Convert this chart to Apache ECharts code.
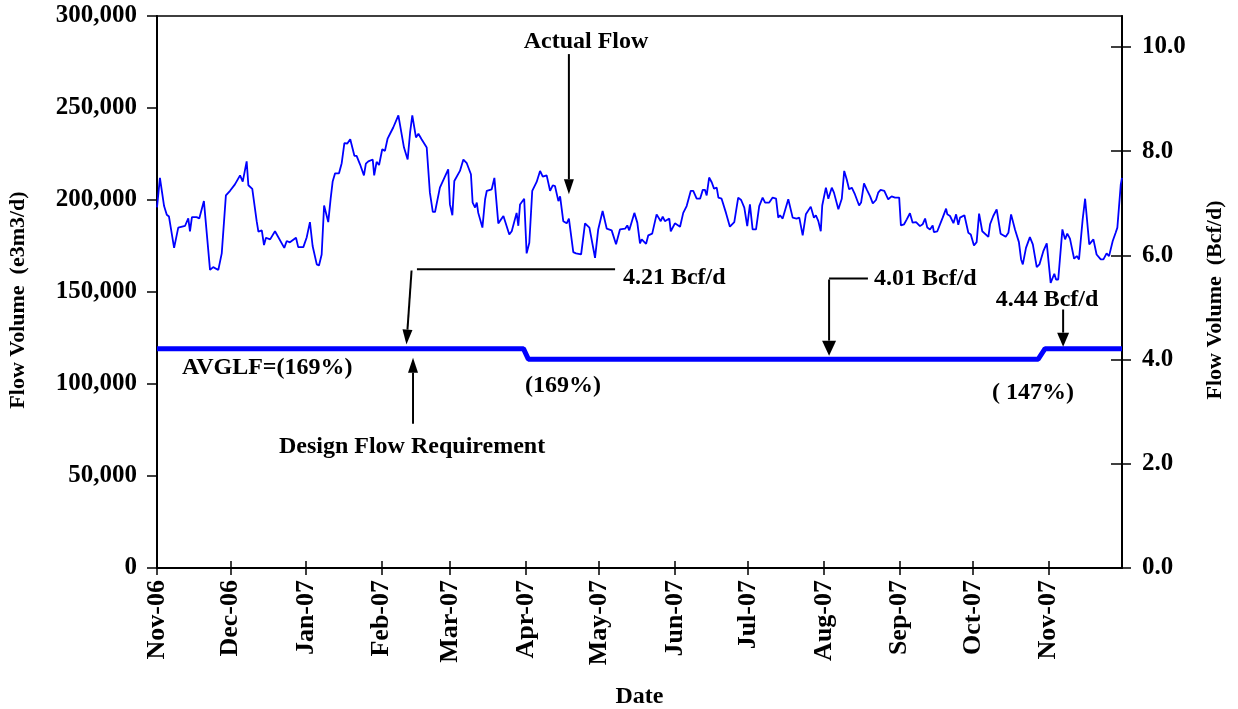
<!DOCTYPE html>
<html>
<head>
<meta charset="utf-8">
<script src="https://cdn.jsdelivr.net/npm/echarts@6/dist/echarts.min.js"></script>
<style>
html, body { margin: 0; padding: 0; background: #fff; }
#chart { width: 1238px; height: 709px; }
</style>
</head>
<body>
<div id="chart"></div>
<script>
// x values are days counted from 1 Nov 2006
const flowDays = [
  0, 1.2, 2.9, 4.0, 4.9, 7.0, 8.7, 11.5, 12.8, 13.5, 14.3, 16.2, 17.3, 19.2, 21.7, 23.0, 25.1, 26.5, 28.2, 29.9,
  31.9, 34.0, 35.1, 36.7, 37.4, 39.0, 40.8, 41.5, 42.9, 43.8, 44.6, 46.3, 48.3, 52.1, 53.1, 54.4, 56.9, 57.8, 59.9, 61.3,
  62.6, 63.7, 65.4, 66.3, 67.4, 68.4, 70.1, 71.1, 71.9, 72.9, 74.5, 75.6, 76.7, 77.9, 79.1, 80.8, 81.7, 83.1, 84.7, 85.5,
  86.5, 88.3, 88.9, 89.9, 90.9, 92.2, 93.3, 94.4, 95.4, 96.7, 98.8, 101.1, 102.6, 103.6, 104.5, 106.0, 107.0, 108.3, 110.4, 111.7,
  112.9, 113.8, 115.8, 119.2, 119.9, 120.9, 121.7, 124.0, 125.4, 126.8, 128.5, 129.2, 130.2, 130.9, 131.5, 133.2, 134.3, 135.0, 137.0, 138.1,
  139.7, 141.8, 144.2, 145.2, 147.2, 147.9, 148.6, 150.3, 151.3, 152.4, 153.6, 155.4, 156.8, 157.9, 159.5, 160.9, 162.0, 162.9, 164.3, 165.0,
  166.3, 167.7, 168.6, 170.4, 171.5, 173.6, 175.2, 177.0, 179.3, 180.6, 182.4, 184.1, 186.1, 187.9, 189.5, 191.6, 192.5, 193.3, 195.4, 196.6,
  197.7, 198.4, 200.2, 201.1, 202.7, 204.5, 205.2, 206.2, 207.0, 207.9, 209.7, 210.3, 211.1, 212.0, 214.1, 215.4, 216.8, 218.5, 219.5, 220.9,
  222.3, 223.4, 224.3, 225.0, 226.0, 227.1, 228.0, 229.1, 229.8, 231.1, 232.9, 234.5, 236.3, 237.9, 239.1, 240.4, 241.6, 242.7, 243.8, 245.2,
  246.5, 247.9, 248.9, 250.6, 252.0, 253.4, 254.3, 255.0, 256.1, 258.4, 260.2, 261.8, 262.9, 264.3, 265.6, 267.6, 268.4, 268.9, 269.7, 270.7,
  271.7, 272.3, 273.8, 274.8, 276.2, 277.1, 278.9, 280.3, 281.3, 282.3, 283.3, 284.4, 285.7, 286.4, 287.4, 288.2, 289.4, 290.5, 291.9, 293.0,
  294.3, 295.2, 296.2, 297.7, 299.3, 300.7, 302.1, 303.8, 304.5, 305.8, 306.9, 308.2, 309.3, 310.7, 312.3, 313.4, 314.4, 315.3, 316.4, 317.5,
  318.0, 319.4, 321.6, 323.0, 323.5, 324.6, 326.0, 327.1, 328.0, 328.7, 330.5, 332.1, 333.1, 334.4, 335.5, 336.5, 337.8, 340.3, 341.0, 342.3,
  343.7, 345.3, 347.4, 348.5, 349.6, 350.3, 351.2, 352.8, 353.7, 354.4, 355.7, 357.3, 358.5, 360.1, 361.2, 362.8, 364.2, 365.8, 367.3, 368.0,
  368.9, 370.6, 371.7, 372.6, 373.7, 375.4, 376.5, 377.4, 378.9, 379.9, 380.6, 381.6, 383.3, 384.6, 386.3, 387.4, 388.7, 389.7, 390.5, 391.2,
  392.4, 393.1, 394.5, 395.0
];
const flowValues = [
  196000, 212000, 196700, 192000, 191000, 174000, 185000, 186000, 190000, 183000, 190700, 190700, 190000, 199400, 162000, 163500, 162000, 171000, 202500, 205000,
  208500, 213400, 210000, 221000, 208000, 206000, 188500, 182800, 183500, 175500, 179500, 178600, 183000, 174000, 177700, 177000, 179500, 174400, 174400, 179800,
  188000, 175000, 165000, 164400, 170400, 197000, 188000, 201000, 210000, 214500, 214500, 220000, 230900, 230700, 233000, 224000, 224000, 219400, 213400, 219800,
  221000, 222000, 213400, 220700, 219000, 227600, 226700, 233400, 236000, 239400, 246000, 228500, 222000, 236700, 246000, 234000, 236000, 233000, 228500, 204000,
  193500, 193500, 206700, 216700, 197600, 191700, 210300, 215800, 222000, 220000, 214000, 198600, 195900, 198600, 193000, 185000, 200400, 205000, 205800, 212000,
  187300, 191300, 181300, 183000, 193000, 186000, 197600, 200700, 171000, 176800, 205000, 209800, 215800, 212700, 213400, 205000, 208000, 207600, 199400, 202000,
  188500, 187300, 189900, 171700, 171000, 170400, 187300, 185000, 168600, 184000, 194000, 184400, 183500, 175900, 184000, 184400, 186200, 183500, 193000, 187700,
  176400, 178600, 176200, 180800, 181700, 192200, 192800, 188500, 191000, 188500, 189900, 183000, 183000, 187300, 185500, 193000, 196700, 205000, 205000, 200700,
  200700, 205500, 205500, 202500, 212200, 209500, 206200, 206700, 201300, 200700, 193000, 185500, 188000, 201300, 200000, 195900, 185800, 197600, 184000, 184000,
  196700, 201300, 198600, 198600, 201300, 200700, 190400, 191700, 189900, 200400, 190400, 189900, 190400, 180800, 192200, 196400, 195900, 190400, 191700, 188500,
  183000, 197000, 206700, 200700, 206700, 204000, 195000, 200700, 215800, 211300, 205800, 206700, 203000, 202000, 197000, 198600, 209000, 205800, 202000, 198200,
  200000, 204000, 205500, 205000, 200400, 202000, 201300, 201300, 186200, 186800, 189500, 192800, 187700, 188000, 185800, 186800, 189900, 185000, 184000, 186200,
  182600, 183000, 190400, 195300, 192200, 191300, 187400, 192200, 186500, 190400, 191700, 182200, 181300, 175300, 177100, 192600, 183000, 180000, 186800, 191300,
  194900, 181700, 180000, 182200, 192200, 192800, 184000, 177100, 167700, 165000, 174000, 179800, 175900, 163500, 165000, 172200, 176400, 155000, 159900, 156800,
  156800, 184000, 178600, 181700, 179000, 168100, 169500, 167700, 189500, 200700, 201600, 175900, 178600, 170400, 167700, 167700, 171000, 169500, 170400, 177700,
  182200, 185000, 208500, 212000
];
// design flow requirement (e3m3/d)
const designDays = [0, 150.0, 152.0, 360.7, 363.5, 395];
const designValues = [119200, 119200, 113500, 113500, 119200, 119200];

const monthDays = [0, 30, 61, 92, 120, 151, 181, 212, 242, 273, 304, 334, 365];
const monthLabels = ['Nov-06', 'Dec-06', 'Jan-07', 'Feb-07', 'Mar-07', 'Apr-07', 'May-07',
  'Jun-07', 'Jul-07', 'Aug-07', 'Sep-07', 'Oct-07', 'Nov-07'];
const bcfTicks = [0, 2, 4, 6, 8, 10];

const E3M3_PER_BCF = 28316.85; // 1 Bcf/d in e3m3/d
const Y_MAX = 300000;
const X_MAX = 395;

const GRID = { left: 157, right: 116, top: 16, bottom: 141 };
const GRID_W = 1238 - GRID.left - GRID.right;
const GRID_H = 709 - GRID.top - GRID.bottom;

const FONT = '"Liberation Serif", "Times New Roman", serif';
const lbl = { fontFamily: FONT, fontWeight: 'bold', color: '#000' };
const tickStyle = { color: '#000', width: 1.5 };

let chart = echarts.init(document.getElementById('chart'));

chart.setOption({
  animation: false,
  grid: Object.assign({
    outerBoundsMode: 'none', containLabel: false,
    show: true, borderColor: '#000', borderWidth: 1.5, backgroundColor: 'transparent'
  }, GRID),
  xAxis: [
    {
      type: 'value', min: 0, max: X_MAX, position: 'bottom',
      name: 'Date', nameLocation: 'middle', nameGap: 117,
      nameTextStyle: Object.assign({ fontSize: 24 }, lbl),
      axisLine: { onZero: false, lineStyle: { color: '#000', width: 2 } },
      axisTick: { customValues: monthDays, length: 7, lineStyle: tickStyle },
      axisLabel: Object.assign({
        customValues: monthDays, rotate: 90, fontSize: 26, margin: 12,
        formatter: v => monthLabels[monthDays.indexOf(v)] || ''
      }, lbl),
      splitLine: { show: false }
    },
    {
      // second copy moved down onto the bottom edge: ticks pointing up into the plot
      type: 'value', min: 0, max: X_MAX, position: 'top', offset: -GRID_H,
      axisLine: { show: false },
      axisTick: { customValues: monthDays, inside: false, length: 7, lineStyle: tickStyle },
      axisLabel: { show: false },
      splitLine: { show: false }
    }
  ],
  yAxis: [
    {
      type: 'value', min: 0, max: Y_MAX, interval: 50000, position: 'left',
      name: 'Flow Volume  (e3m3/d)', nameLocation: 'middle', nameRotate: 90, nameGap: 128,
      nameTextStyle: Object.assign({ fontSize: 22, padding: [0, 16, 0, 0] }, lbl),
      axisLine: { show: true, onZero: false, lineStyle: { color: '#000', width: 2 } },
      axisTick: { show: true, length: 10, lineStyle: tickStyle },
      axisLabel: Object.assign({
        fontSize: 25, margin: 20,
        formatter: v => v.toLocaleString('en-US')
      }, lbl),
      splitLine: { show: false }
    },
    {
      type: 'value', min: 0, max: Y_MAX / E3M3_PER_BCF, position: 'right',
      name: 'Flow Volume  (Bcf/d)', nameLocation: 'middle', nameRotate: 90, nameGap: 82,
      nameTextStyle: Object.assign({ fontSize: 22, padding: [0, 16, 0, 0] }, lbl),
      axisLine: { show: true, onZero: false, lineStyle: { color: '#000', width: 2 } },
      axisTick: { show: true, customValues: bcfTicks, length: 9, lineStyle: tickStyle },
      axisLabel: Object.assign({
        customValues: bcfTicks, fontSize: 25, margin: 20,
        formatter: v => v.toFixed(1)
      }, lbl),
      splitLine: { show: false }
    },
    {
      // copy moved onto the right edge: ticks pointing left into the plot
      type: 'value', min: 0, max: Y_MAX / E3M3_PER_BCF, position: 'left', offset: -GRID_W,
      axisLine: { show: false },
      axisTick: { show: true, inside: false, customValues: bcfTicks, length: 11, lineStyle: tickStyle },
      axisLabel: { show: false },
      splitLine: { show: false }
    }
  ],
  series: [
    {
      name: 'Actual Flow', type: 'line', xAxisIndex: 0, yAxisIndex: 0,
      data: flowDays.map((d, i) => [d, flowValues[i]]),
      showSymbol: false, symbol: 'none',
      lineStyle: { color: '#0000ff', width: 1.8 }
    },
    {
      name: 'Design Flow Requirement', type: 'line', xAxisIndex: 0, yAxisIndex: 0,
      data: designDays.map((d, i) => [d, designValues[i]]),
      showSymbol: false, symbol: 'none',
      lineStyle: { color: '#0000ff', width: 5 }
    }
  ]
});

// annotations, positioned in data coordinates (day, e3m3/d)
function px(d, v) {
  return chart.convertToPixel({ xAxisIndex: 0, yAxisIndex: 0 }, [d, v]);
}
function text(str, d, v, align) {
  const p = px(d, v);
  return {
    type: 'text', x: p[0], y: p[1], z: 100,
    style: {
      text: str, fill: '#000', font: 'bold 24px ' + FONT,
      textAlign: align, align: align, textVerticalAlign: 'middle', verticalAlign: 'middle'
    }
  };
}
function segment(d1, v1, d2, v2) {
  const p = px(d1, v1), q = px(d2, v2);
  return { type: 'line', z: 100, shape: { x1: p[0], y1: p[1], x2: q[0], y2: q[1] }, style: { stroke: '#000', lineWidth: 2 } };
}
function arrow(d1, v1, d2, v2, hl, hw) {
  const p = px(d1, v1), q = px(d2, v2);
  const dx = q[0] - p[0], dy = q[1] - p[1], L = Math.hypot(dx, dy);
  const ux = dx / L, uy = dy / L;
  const bx = q[0] - ux * hl, by = q[1] - uy * hl;
  return [
    { type: 'line', z: 100, shape: { x1: p[0], y1: p[1], x2: bx, y2: by }, style: { stroke: '#000', lineWidth: 2 } },
    {
      type: 'polygon', z: 100,
      shape: { points: [[q[0], q[1]], [bx - uy * hw / 2, by + ux * hw / 2], [bx + uy * hw / 2, by - ux * hw / 2]] },
      style: { fill: '#000' }
    }
  ];
}

chart.setOption({
  graphic: [].concat(
    text('Actual Flow', 175.6, 285800, 'center'),
    arrow(168.6, 279300, 168.6, 203100, 15, 10),
    segment(106.4, 162300, 187.5, 162300),
    text('4.21 Bcf/d', 190.7, 157900, 'left'),
    arrow(104.2, 161700, 102.1, 121400, 15, 10),
    arrow(104.8, 78400, 104.8, 114300, 15, 10),
    text('Design Flow Requirement', 104.4, 65900, 'center'),
    text('AVGLF=(169%)', 10.2, 108900, 'left'),
    text('(169%)', 150.6, 99100, 'left'),
    segment(275.1, 157400, 291.0, 157400),
    text('4.01 Bcf/d', 293.5, 157400, 'left'),
    arrow(275.1, 156800, 275.1, 115400, 15, 14),
    text('4.44 Bcf/d', 364.3, 145900, 'center'),
    arrow(370.9, 140500, 370.9, 120300, 14, 12),
    text('( 147%)', 341.8, 95300, 'left')
  )
});
</script>
</body>
</html>
